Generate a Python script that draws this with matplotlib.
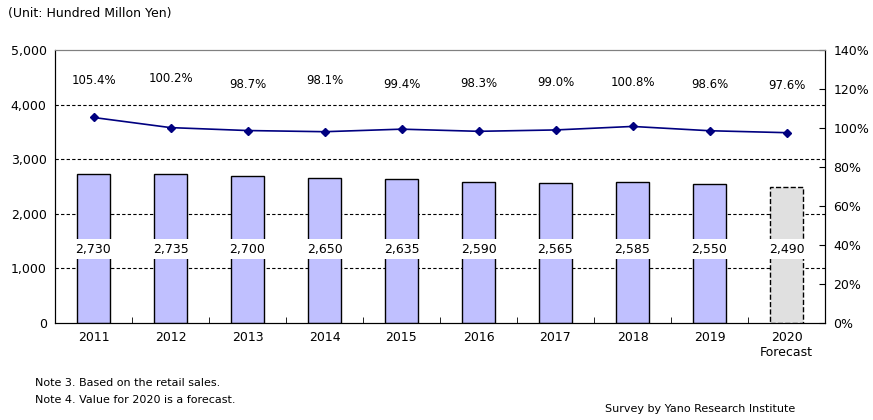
import matplotlib.pyplot as plt
import numpy as np

# Market size data (hundred million yen) and year-on-year growth
years = ["2011", "2012", "2013", "2014", "2015", "2016", "2017", "2018", "2019", "2020\nForecast"]
sales = [2730, 2735, 2700, 2650, 2635, 2590, 2565, 2585, 2550, 2490]
growth = [105.4, 100.2, 98.7, 98.1, 99.4, 98.3, 99.0, 100.8, 98.6, 97.6]
growth_label_y = [124.5, 125.5, 122.5, 124.5, 122.5, 123.0, 123.5, 123.5, 122.5, 122.0]

plt.rcParams['font.family'] = ['DejaVu Sans']

fig = plt.figure(figsize=(8.73, 4.2), dpi=100)
ax = fig.add_axes([55 / 873, 1 - 323 / 420, 770 / 873, 273 / 420])
ax2 = ax.twinx()

x = np.arange(len(years))

# Bars: actual values in lavender, forecast in gray with dashed edge
colors = ["#c0c0ff"] * (len(sales) - 1) + ["#e0e0e0"]
styles = ["solid"] * (len(sales) - 1) + ["dashed"]
for i in range(len(sales)):
    ax.bar(x[i], sales[i], width=0.42, color=colors[i], edgecolor="black",
           linewidth=1.0, linestyle=styles[i], zorder=3)
    ax.text(x[i], 1350, f"{sales[i]:,}", ha="center", va="center", fontsize=9,
            zorder=5, bbox=dict(facecolor="white", edgecolor="none", pad=2.5))

ax.set_ylim(0, 5000)
ax.set_xlim(-0.5, len(years) - 0.5)
ax.set_yticks(range(0, 5001, 1000))
ax.set_yticklabels([f"{v:,}" for v in range(0, 5001, 1000)], fontsize=9)
for v in range(1000, 5000, 1000):
    ax.axhline(v, color="black", linestyle=(0, (3, 2)), linewidth=0.8, zorder=1)
ax.set_xticks(x)
ax.set_xticklabels(years, fontsize=9)
ax.set_xticks(np.arange(0.5, len(years) - 1, 1), minor=True)
ax.tick_params(axis="x", which="major", length=0, pad=6)
ax.tick_params(axis="x", which="minor", direction="in", length=4)
ax.tick_params(axis="y", direction="in", length=0, pad=6)

# Growth line on the right axis
ax2.plot(x, growth, color="#000080", marker="D", markersize=4.5, linewidth=1.2, zorder=4)
for i in range(len(growth)):
    ax2.text(x[i], growth_label_y[i], f"{growth[i]:.1f}%", ha="center", va="center", fontsize=8.5)
ax2.set_ylim(0, 140)
ax2.set_yticks(range(0, 141, 20))
ax2.set_yticklabels([f"{v}%" for v in range(0, 141, 20)], fontsize=9)
ax2.tick_params(axis="y", direction="in", length=4, pad=6)

for a in (ax, ax2):
    a.spines["top"].set_color("#808080")
    a.spines["left"].set_color("black")
    a.spines["right"].set_color("black")
    a.spines["bottom"].set_color("black")

fig.text(8 / 873, 1 - 13 / 420, "(Unit: Hundred Millon Yen)", fontsize=9, va="center")
fig.text(35 / 873, 1 - 383 / 420, "Note 3. Based on the retail sales.", fontsize=8, va="center")
fig.text(35 / 873, 1 - 400 / 420, "Note 4. Value for 2020 is a forecast.", fontsize=8, va="center")
fig.text(795 / 873, 1 - 409 / 420, "Survey by Yano Research Institute", fontsize=8, va="center", ha="right")

fig.savefig("out.png", dpi=100)
